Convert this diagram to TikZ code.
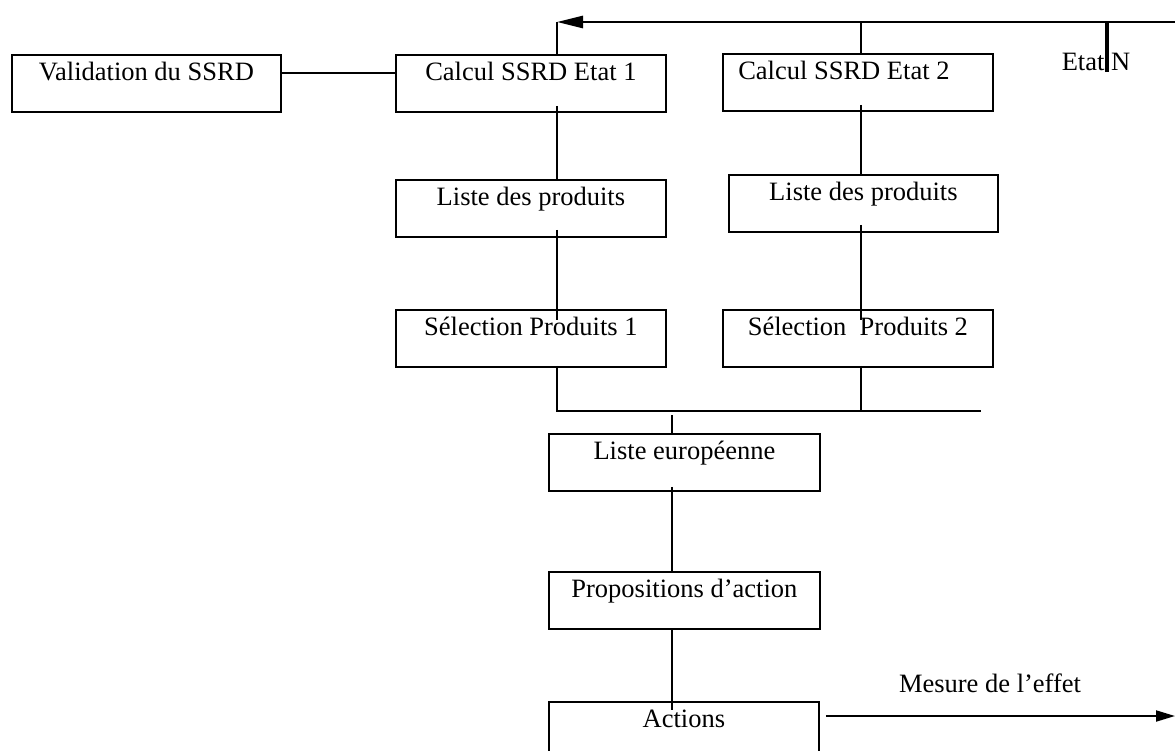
\documentclass[tikz,border=0pt]{standalone}
\usepackage{fontspec}
\setmainfont{Liberation Serif}
\usetikzlibrary{arrows.meta,calc}

\tikzset{
  stagebox/.style={draw, line width=1.8bp, anchor=north west, inner xsep=0pt, inner ysep=0pt,
    text height=26bp, text depth=31bp, minimum width=270bp,
    font=\fontsize{26.5bp}{30bp}\selectfont},
  link/.style={line width=1.9bp},
  feedback/.style={line width=2.6bp, -{Triangle[length=26bp,width=12bp]}},
  outflow/.style={line width=2bp, -{Triangle[length=19bp,width=11bp]}},
  lbl/.style={anchor=base, inner sep=0pt, font=\fontsize{26.5bp}{30bp}\selectfont}
}

\begin{document}
\begin{tikzpicture}[x=1bp,y=-1bp]
\useasboundingbox (0,0) rectangle (1175,751);
\clip (0,0) rectangle (1175,751);

% stages
\node[stagebox, minimum width=269bp] (val) at (11,54) {Validation du SSRD};
\node[stagebox] (e1) at (395,54) {Calcul SSRD Etat 1};
\node[stagebox] (e2) at (722,53) {Calcul SSRD Etat 2\kern28bp\relax};
\node[stagebox] (l1) at (395,179) {Liste des produits};
\node[stagebox, minimum width=269bp] (l2) at (728,174) {Liste des produits};
\node[stagebox] (s1) at (395,309) {Sélection Produits 1};
\node[stagebox] (s2) at (722,309) {Sélection\ \ Produits 2};
\node[stagebox, minimum width=271bp] (le) at (548,433) {Liste européenne};
\node[stagebox, minimum width=271bp] (pa) at (548,571) {Propositions d’action};
\node[stagebox] (act) at (548,701) {Actions};

% routing points
\coordinate (topR) at (1175,22);
\coordinate (t1) at (557,22);
\coordinate (t2) at (861,22);
\coordinate (tN) at (1107,22);
\coordinate (tNend) at (1107,72);
\coordinate (bus1) at (557,411);
\coordinate (bus2) at (861,411);
\coordinate (busR) at (981,411);
\coordinate (c3) at (672,415);
\coordinate (outEnd) at (1175,716);

% feedback line over the states
\draw[feedback] (topR) -- (t1);
\draw[link] (t1) -- (t1 |- e1.north);
\draw[link] (t2) -- (t2 |- e2.north);
\draw[line width=3.2bp] (tN) -- (tNend);
\node[lbl] (etatN) at (1096,71) {Etat N};

% validation link
\draw[link] ([yshift=-19bp]val.north east) -- ([yshift=-19bp]e1.north west);

% column 1
\draw[link] ($(t1 |- e1.south)+(0,-7)$) -- (t1 |- l1.north);
\draw[link] ($(t1 |- l1.south)+(0,-8)$) -- ($(t1 |- s1.north)+(0,11)$);
\draw[link] ($(t1 |- s1.south)+(0,-2)$) -- (bus1) -- (busR);

% column 2
\draw[link] ($(t2 |- e2.south)+(0,-7)$) -- (t2 |- l2.north);
\draw[link] ($(t2 |- l2.south)+(0,-8)$) -- ($(t2 |- s2.north)+(0,11)$);
\draw[link] ($(t2 |- s2.south)+(0,-2)$) -- (bus2);

% merged chain
\draw[link] (c3) -- (c3 |- le.north);
\draw[link] ($(c3 |- le.south)+(0,-5)$) -- (c3 |- pa.north);
\draw[link] (c3 |- pa.south) -- ($(c3 |- act.north)+(0,9)$);

% effect measurement
\draw[outflow] ($(act.north east)+(6,15)$) -- (outEnd);
\node[lbl] (mesure) at (990,692) {Mesure de l’effet};
\end{tikzpicture}
\end{document}
